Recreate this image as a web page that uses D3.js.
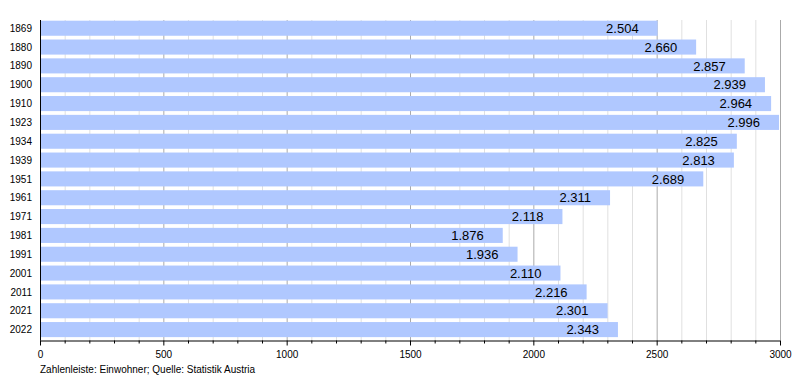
<!DOCTYPE html>
<html><head><meta charset="utf-8">
<script src="https://cdn.jsdelivr.net/npm/d3@7"></script>
<style>body{margin:0;background:#fff}svg{display:block;font-family:"Liberation Sans",Arial,sans-serif}</style>
</head><body><svg id="c" width="800" height="380"></svg>
<script>
const years = ["1869","1880","1890","1900","1910","1923","1934","1939","1951","1961","1971","1981","1991","2001","2011","2021","2022"];
const population = [2504,2660,2857,2939,2964,2996,2825,2813,2689,2311,2118,1876,1936,2110,2216,2301,2343];
const majorTicks = [0,500,1000,1500,2000,2500,3000];
const caption = "Zahlenleiste: Einwohner; Quelle: Statistik Austria";

const svg = d3.select("#c");
const x = d3.scaleLinear().domain([0,3000]).range([40,780]);
const y = d3.scaleBand().domain(years).range([18.8,339]).paddingInner(0.2).paddingOuter(0.1);
const plotTop = 20, plotBottom = 340.5;
const minor = d3.range(100,3000,100).filter(v=>v%500!==0);

svg.append("g").selectAll("line").data(minor).join("line")
  .attr("x1",d=>x(d)+0.5).attr("x2",d=>x(d)+0.5).attr("y1",plotTop).attr("y2",plotBottom)
  .attr("stroke","#e0e0e0");
svg.append("g").selectAll("line").data(majorTicks.slice(1)).join("line")
  .attr("x1",d=>x(d)+0.5).attr("x2",d=>x(d)+0.5).attr("y1",plotTop).attr("y2",plotBottom)
  .attr("stroke","#aaaaaa");

svg.append("g").selectAll("rect").data(years).join("rect")
  .attr("x",x(0)).attr("y",d=>y(d)).attr("height",y.bandwidth())
  .attr("width",(d,i)=>x(population[i])-x(0)).attr("fill","#b0c8ff");

svg.append("g").selectAll("text").data(years).join("text")
  .attr("x",(d,i)=>x(population[i])-19).attr("y",d=>y(d)+y.bandwidth()/2)
  .attr("dy","0.36em").attr("text-anchor","end").attr("font-size",13).attr("fill","#000")
  .text((d,i)=>d3.format(".3f")(population[i]/1000));

svg.append("g").selectAll("text").data(years).join("text")
  .attr("x",32).attr("y",d=>y(d)+y.bandwidth()/2).attr("dy","0.36em")
  .attr("text-anchor","end").attr("font-size",10).text(d=>d);

svg.append("line").attr("x1",40.5).attr("x2",40.5).attr("y1",plotTop).attr("y2",plotBottom).attr("stroke","#000");
const xa = svg.append("g").attr("transform",`translate(0,${plotBottom})`);
xa.call(d3.axisBottom(x).tickValues(majorTicks).tickSize(5).tickFormat(d3.format("d")))
  .call(g=>g.select(".domain").attr("d",`M${x(0)},0.5H${x(3000)}`))
  .call(g=>g.selectAll("text").attr("font-size",10).attr("font-family","Liberation Sans, Arial").attr("dy","0.9em"));
xa.append("g").selectAll("line").data(minor).join("line")
  .attr("x1",d=>x(d)+0.5).attr("x2",d=>x(d)+0.5).attr("y1",0).attr("y2",3).attr("stroke","#000");

svg.append("text").attr("x",40).attr("y",373).attr("font-size",10).text(caption);
</script></body></html>
